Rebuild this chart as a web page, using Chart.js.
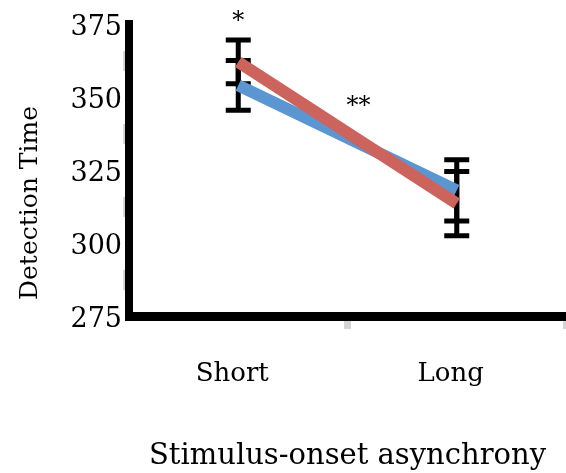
<!DOCTYPE html>
<html>
<head>
<meta charset="utf-8">
<script src="https://cdn.jsdelivr.net/npm/chart.js@4.4.0/dist/chart.umd.min.js"></script>
<style>
    html, body { margin: 0; padding: 0; background: #fff; }
    #chart-wrap { width: 566px; height: 473px; }
</style>
</head>
<body>
<div id="chart-wrap"><canvas id="chart-soa" width="566" height="473"></canvas></div>
<script>
const categories = ['Short', 'Long'];
const yTicks = [275, 300, 325, 350, 375];
const redMeans = [362, 313.5];
const redErrors = [7.5, 11];
const blueMeans = [354, 318];
const blueErrors = [8.5, 10.5];
// significance marks: text, category position, value at text baseline
const markText = ['*', '**'];
const markX = [0, 0.55];
const markY = [373.5, 344.5];

const serif = '"DejaVu Serif", "Liberation Serif", serif';

const errorBarPlugin = {
    id: 'errorBars',
    beforeDatasetsDraw(chart) {
        const ctx = chart.ctx;
        const xScale = chart.scales.x;
        const yScale = chart.scales.y;
        ctx.save();
        ctx.strokeStyle = '#000';
        ctx.lineWidth = 5;
        chart.data.datasets.forEach(function (ds) {
            ds.data.forEach(function (v, i) {
                const px = xScale.getPixelForValue(i);
                const top = yScale.getPixelForValue(v + ds.errors[i]);
                const bot = yScale.getPixelForValue(v - ds.errors[i]);
                ctx.beginPath();
                ctx.moveTo(px, top);
                ctx.lineTo(px, bot);
                ctx.moveTo(px - 12.5, top);
                ctx.lineTo(px + 12.5, top);
                ctx.moveTo(px - 12.5, bot);
                ctx.lineTo(px + 12.5, bot);
                ctx.stroke();
            });
        });
        ctx.restore();
    }
};

const textPlugin = {
    id: 'extraText',
    afterDraw(chart) {
        const ctx = chart.ctx;
        const xScale = chart.scales.x;
        const yScale = chart.scales.y;
        ctx.save();
        ctx.fillStyle = '#000';
        ctx.font = '24px ' + serif;
        ctx.textAlign = 'center';
        ctx.textBaseline = 'alphabetic';
        markText.forEach(function (t, i) {
            ctx.fillText(t, xScale.getPixelForValue(markX[i]), yScale.getPixelForValue(markY[i]));
        });

        // y axis title, centred lower than the plot area like the original
        ctx.font = '25px ' + serif;
        ctx.textBaseline = 'middle';
        ctx.translate(30, 203);
        ctx.rotate(-Math.PI / 2);
        ctx.fillText('Detection Time', 0, 0);
        ctx.restore();
    }
};

const chartSoa = new Chart(document.getElementById('chart-soa'), {
    type: 'line',
    data: {
        labels: categories,
        datasets: [{
            label: 'Red',
            data: redMeans,
            errors: redErrors,
            borderColor: '#cd635d',
            borderWidth: 12,
            borderCapStyle: 'butt',
            pointRadius: 0,
            tension: 0,
            fill: false
        }, {
            label: 'Blue',
            data: blueMeans,
            errors: blueErrors,
            borderColor: '#5b96d2',
            borderWidth: 12,
            borderCapStyle: 'butt',
            pointRadius: 0,
            tension: 0,
            fill: false
        }]
    },
    options: {
        responsive: false,
        devicePixelRatio: 1,
        animation: false,
        layout: {
            padding: { top: 24, left: 0, right: 0, bottom: 0 }
        },
        plugins: {
            legend: { display: false },
            tooltip: { enabled: false }
        },
        scales: {
            x: {
                offset: true,
                afterFit: function (scale) { scale.height = 157; },
                border: { display: true, width: 9, color: '#000' },
                grid: {
                    offset: true,
                    drawOnChartArea: false,
                    drawTicks: true,
                    tickLength: 13,
                    lineWidth: 7,
                    color: function (c) { return c.index === 0 ? 'rgba(0,0,0,0)' : '#d4d4d4'; }
                },
                ticks: {
                    padding: 30,
                    labelOffset: -6,
                    color: '#000',
                    font: { family: serif, size: 26 }
                },
                title: {
                    display: true,
                    text: 'Stimulus-onset asynchrony',
                    color: '#000',
                    font: { family: serif, size: 29 },
                    padding: { top: 0, bottom: -1 }
                }
            },
            y: {
                min: 275,
                max: 375,
                afterFit: function (scale) { scale.width = 129; },
                afterBuildTicks: function (scale) {
                    scale.ticks = yTicks.map(v => ({ value: v }));
                },
                border: { display: true, width: 8, color: '#000' },
                grid: {
                    offset: true,
                    drawOnChartArea: false,
                    drawTicks: true,
                    tickLength: 6,
                    lineWidth: function (c) { return c.index === 0 ? 1 : 20; },
                    color: '#d6d6d6'
                },
                ticks: {
                    padding: 1,
                    labelOffset: 4,
                    color: '#000',
                    font: { family: serif, size: 27 }
                }
            }
        }
    },
    plugins: [errorBarPlugin, textPlugin]
});
</script>
</body>
</html>
